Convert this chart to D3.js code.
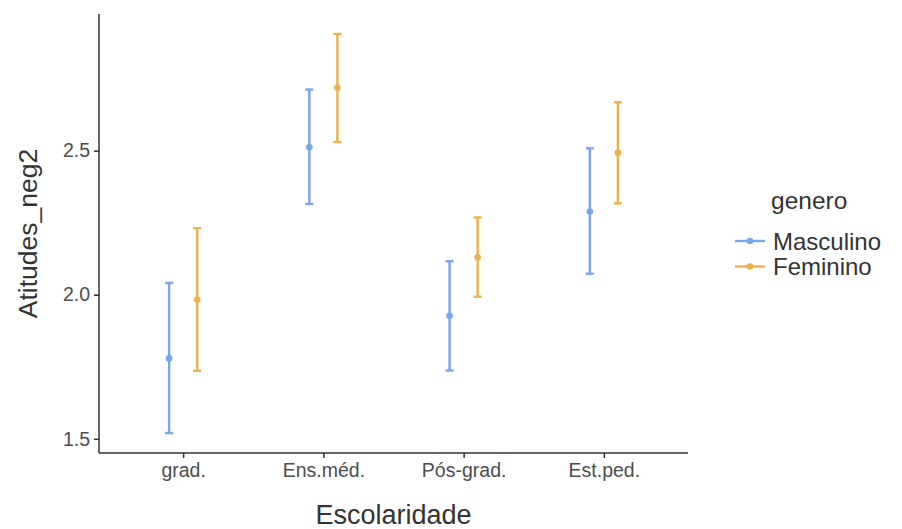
<!DOCTYPE html>
<html>
<head>
<meta charset="utf-8">
<script src="https://cdn.jsdelivr.net/npm/d3@7"></script>
<style>
  body { margin: 0; background: #fff; }
  text { font-family: "Liberation Sans", Arial, sans-serif; }
</style>
</head>
<body>
<svg id="chart" width="902" height="529"></svg>
<script>
// data
var categories = ['grad.', 'Ens.méd.', 'Pós-grad.', 'Est.ped.'];
var generos = ['Masculino', 'Feminino'];
var masculinoMean = [1.779, 2.512, 1.927, 2.289];
var masculinoLow  = [1.520, 2.315, 1.737, 2.073];
var masculinoHigh = [2.041, 2.712, 2.116, 2.508];
var femininoMean  = [1.983, 2.718, 2.130, 2.493];
var femininoLow   = [1.736, 2.530, 1.993, 2.317];
var femininoHigh  = [2.231, 2.905, 2.268, 2.668];
var yTicks = [1.5, 2.0, 2.5];
var colors = { Masculino: '#78a5eb', Feminino: '#ebb14c' };

var rows = [];
categories.forEach(function (c, i) {
    rows.push({ cat: c, g: 'Masculino', m: masculinoMean[i], lo: masculinoLow[i], hi: masculinoHigh[i] });
    rows.push({ cat: c, g: 'Feminino', m: femininoMean[i], lo: femininoLow[i], hi: femininoHigh[i] });
});

var svg = d3.select('#chart');
var panel = { l: 99, r: 688, t: 14, b: 453 };

// discrete axis with ggplot style 0.6 expansion
var x = d3.scalePoint()
    .domain(categories)
    .range([panel.l, panel.r])
    .padding(0.6);
var dodge = x.step() * 0.1;

var lo = d3.min(masculinoLow.concat(femininoLow));
var hi = d3.max(masculinoHigh.concat(femininoHigh));
var pad = (hi - lo) * 0.05;
var y = d3.scaleLinear()
    .domain([lo - pad, hi + pad])
    .range([panel.b, panel.t]);

// axes
var yAxis = svg.append('g')
    .attr('transform', 'translate(' + panel.l + ',0)')
    .call(d3.axisLeft(y).tickValues(yTicks).tickFormat(d3.format('.1f')).tickSize(5).tickPadding(4));
var xAxis = svg.append('g')
    .attr('transform', 'translate(0,' + panel.b + ')')
    .call(d3.axisBottom(x).tickSize(5).tickPadding(5));
[xAxis, yAxis].forEach(function (a) {
    a.select('.domain').remove();
    a.selectAll('line').attr('stroke', '#333').attr('stroke-width', 1.5);
    a.selectAll('text').attr('fill', '#4d4d4d').style('font-size', '19.5px');
});
svg.append('line')
    .attr('x1', panel.l).attr('x2', panel.l)
    .attr('y1', panel.t).attr('y2', panel.b)
    .attr('stroke', '#333').attr('stroke-width', 1.5);
svg.append('line')
    .attr('x1', panel.l).attr('x2', panel.r)
    .attr('y1', panel.b).attr('y2', panel.b)
    .attr('stroke', '#333').attr('stroke-width', 1.5);

// error bars
function xpos(d) {
    return x(d.cat) + (d.g === 'Masculino' ? -dodge : dodge);
}
var bars = svg.append('g').selectAll('g')
    .data(rows)
    .enter()
    .append('g')
    .attr('stroke', function (d) { return colors[d.g]; })
    .attr('fill', function (d) { return colors[d.g]; })
    .attr('stroke-width', 2.4);
bars.append('line')
    .attr('x1', xpos).attr('x2', xpos)
    .attr('y1', function (d) { return y(d.lo); })
    .attr('y2', function (d) { return y(d.hi); });
bars.append('line')
    .attr('x1', function (d) { return xpos(d) - 4; })
    .attr('x2', function (d) { return xpos(d) + 4; })
    .attr('y1', function (d) { return y(d.lo); })
    .attr('y2', function (d) { return y(d.lo); });
bars.append('line')
    .attr('x1', function (d) { return xpos(d) - 4; })
    .attr('x2', function (d) { return xpos(d) + 4; })
    .attr('y1', function (d) { return y(d.hi); })
    .attr('y2', function (d) { return y(d.hi); });
bars.append('circle')
    .attr('cx', xpos)
    .attr('cy', function (d) { return y(d.m); })
    .attr('r', 3.3)
    .attr('stroke', 'none');

// axis titles
svg.append('text')
    .attr('x', (panel.l + panel.r) / 2)
    .attr('y', 524)
    .attr('text-anchor', 'middle')
    .style('font-size', '27px')
    .style('fill', '#333')
    .text('Escolaridade');
svg.append('text')
    .attr('transform', 'translate(' + [37, (panel.t + panel.b) / 2] + ') rotate(-90)')
    .attr('text-anchor', 'middle')
    .style('font-size', '26.5px')
    .style('fill', '#333')
    .text('Atitudes_neg2');

// legend
var legend = svg.append('g').attr('transform', 'translate(733,0)');
legend.append('text')
    .attr('x', 38).attr('y', 209)
    .style('font-size', '24.5px')
    .style('fill', '#333')
    .text('genero');
var items = legend.selectAll('.key')
    .data(generos)
    .enter()
    .append('g')
    .attr('class', 'key')
    .attr('transform', function (d, i) { return 'translate(0,' + (241 + i * 25.5) + ')'; });
items.append('line')
    .attr('x1', 2).attr('x2', 32)
    .attr('stroke', function (d) { return colors[d]; })
    .attr('stroke-width', 2.4);
items.append('circle')
    .attr('cx', 17).attr('r', 3.3)
    .attr('fill', function (d) { return colors[d]; });
items.append('text')
    .attr('x', 40).attr('y', 8.5)
    .style('font-size', '24px')
    .style('fill', '#333')
    .text(function (d) { return d; });
</script>
</body>
</html>
